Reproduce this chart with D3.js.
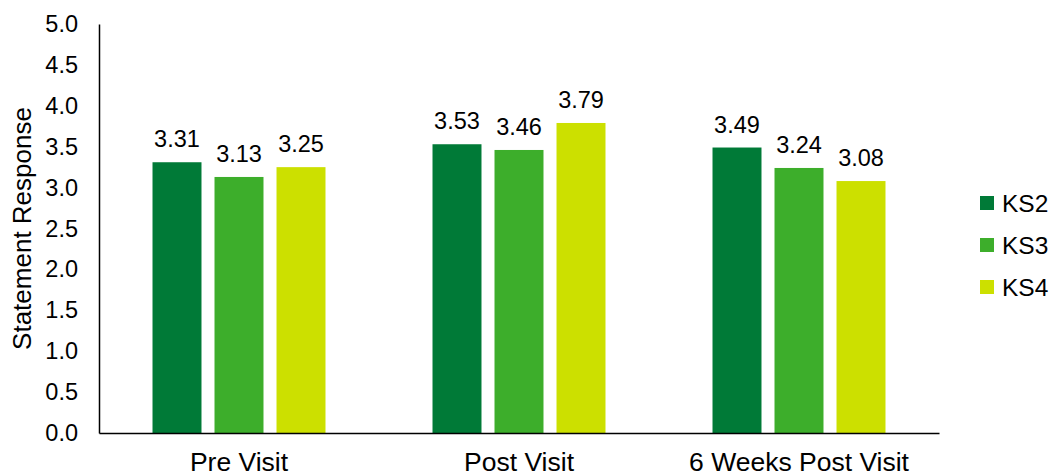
<!DOCTYPE html>
<html>
<head>
<meta charset="utf-8">
<script src="https://cdn.jsdelivr.net/npm/d3@7"></script>
<style>
  html, body { margin: 0; padding: 0; background: #fff; }
  svg { display: block; font-family: "Liberation Sans", Arial, sans-serif; }
</style>
</head>
<body>
<svg id="chart" width="1051" height="476"></svg>
<script>
// Mean statement response by key stage at each visit stage
const visits = ["Pre Visit", "Post Visit", "6 Weeks Post Visit"];
const stages = ["KS2", "KS3", "KS4"];
const ks2 = [3.31, 3.53, 3.49];
const ks3 = [3.13, 3.46, 3.24];
const ks4 = [3.25, 3.79, 3.08];
const yTicks = [0, 0.5, 1, 1.5, 2, 2.5, 3, 3.5, 4, 4.5, 5];
const colors = ["#007A37", "#3DAE2B", "#CCE000"];

const seriesValues = [ks2, ks3, ks4];

const svg = d3.select("#chart");
const plotLeft = 99, plotRight = 939, plotTop = 24, plotBottom = 433;

const x0 = d3.scaleBand().domain(visits).range([plotLeft, plotRight]).paddingInner(0).paddingOuter(0);
const x1 = d3.scaleBand().domain(stages)
  .range([0, x0.bandwidth()]).paddingInner(0.21).paddingOuter(0.863);
const y = d3.scaleLinear().domain([0, 5]).range([plotBottom, plotTop]);
const color = d3.scaleOrdinal().domain(stages).range(colors);

// Bars with value labels
const groups = svg.append("g").selectAll("g")
  .data(visits)
  .join("g")
  .attr("transform", d => `translate(${x0(d)},0)`);

const cells = (v, i) => stages.map((s, j) => ({ stage: s, value: seriesValues[j][i] }));

groups.selectAll("rect")
  .data(cells)
  .join("rect")
  .attr("x", d => x1(d.stage))
  .attr("width", x1.bandwidth())
  .attr("y", d => y(d.value))
  .attr("height", d => y(0) - y(d.value))
  .attr("fill", d => color(d.stage));

groups.selectAll("text")
  .data(cells)
  .join("text")
  .attr("x", d => x1(d.stage) + x1.bandwidth() / 2)
  .attr("y", d => y(d.value) - 15)
  .attr("text-anchor", "middle")
  .attr("font-size", 23.5)
  .attr("fill", "#000")
  .text(d => d3.format(".2f")(d.value));

// Y axis
const yAxis = svg.append("g")
  .attr("transform", `translate(${plotLeft},0)`)
  .call(d3.axisLeft(y).tickValues(yTicks).tickFormat(d3.format(".1f")).tickSize(0).tickPadding(21));
yAxis.select(".domain").attr("stroke", "#000").attr("stroke-width", 1.5);
yAxis.selectAll("text").attr("font-size", 23.5).attr("fill", "#000")
  .attr("font-family", "Liberation Sans, Arial, sans-serif");

// X axis
const xAxis = svg.append("g")
  .attr("transform", `translate(0,${plotBottom})`)
  .call(d3.axisBottom(x0).tickSize(0).tickPadding(19));
xAxis.select(".domain").attr("stroke", "#000").attr("stroke-width", 1.5);
xAxis.selectAll("text").attr("font-size", 26.5).attr("fill", "#000")
  .attr("font-family", "Liberation Sans, Arial, sans-serif");

// Axis title
svg.append("text")
  .attr("transform", `translate(31,${(plotTop + plotBottom) / 2}) rotate(-90)`)
  .attr("text-anchor", "middle")
  .attr("font-size", 26)
  .attr("fill", "#000")
  .text("Statement Response");

// Legend
const legend = svg.append("g").selectAll("g")
  .data(stages)
  .join("g")
  .attr("transform", (d, i) => `translate(980,${203 + i * 42})`);
legend.append("rect")
  .attr("x", 0).attr("y", -7).attr("width", 14).attr("height", 14)
  .attr("fill", d => color(d));
legend.append("text")
  .attr("x", 22).attr("y", 0).attr("dy", "0.35em")
  .attr("font-size", 24.5)
  .attr("fill", "#000")
  .text(d => d);
</script>
</body>
</html>
